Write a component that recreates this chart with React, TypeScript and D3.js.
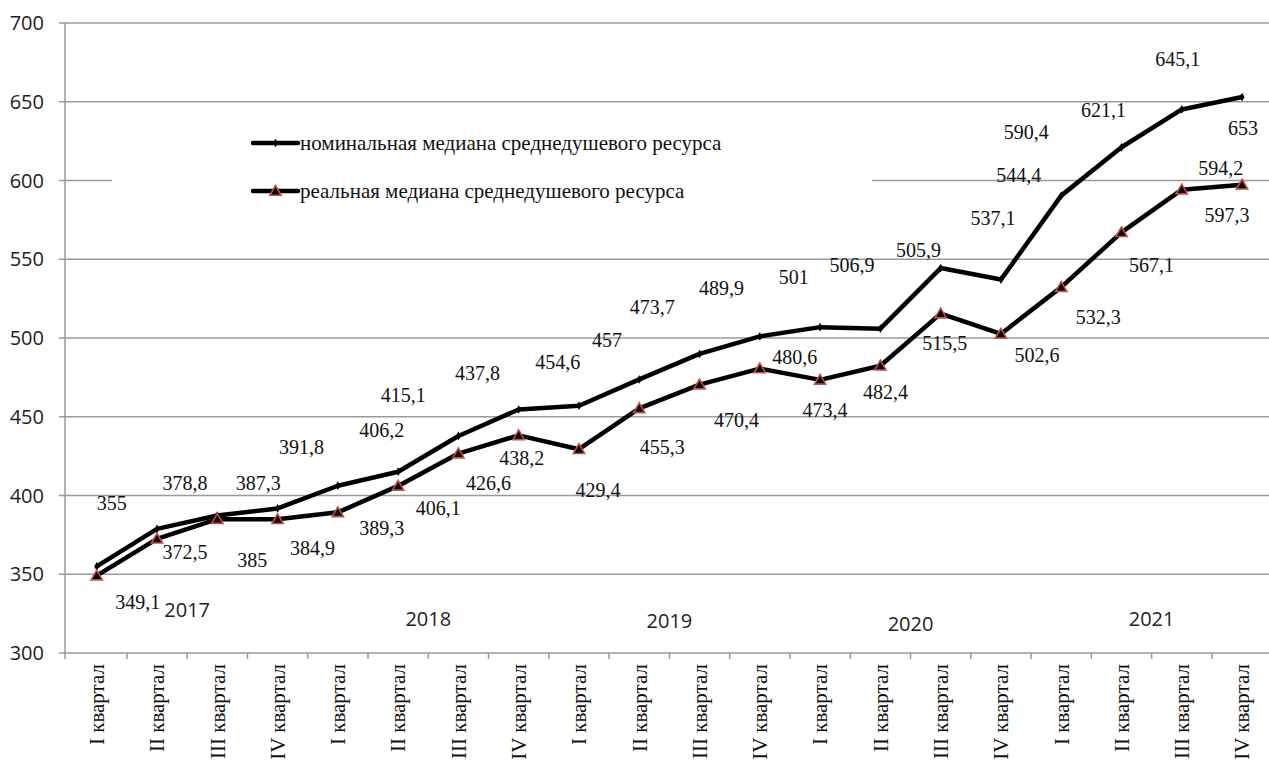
import React, { useEffect, useRef } from "react";
import * as d3 from "d3";

const quarters = [
  "I квартал", "II квартал", "III квартал", "IV квартал",
  "I квартал", "II квартал", "III квартал", "IV квартал",
  "I квартал", "II квартал", "III квартал", "IV квартал",
  "I квартал", "II квартал", "III квартал", "IV квартал",
  "I квартал", "II квартал", "III квартал", "IV квартал",
];
const years = ["2017", "2018", "2019", "2020", "2021"];
const nominal = [355, 378.8, 387.3, 391.8, 406.2, 415.1, 437.8, 454.6, 457, 473.7, 489.9, 501, 506.9, 505.9, 544.4, 537.1, 590.4, 621.1, 645.1, 653];
const real = [349.1, 372.5, 385, 384.9, 389.3, 406.1, 426.6, 438.2, 429.4, 455.3, 470.4, 480.6, 473.4, 482.4, 515.5, 502.6, 532.3, 567.1, 594.2, 597.3];
const yTicks = [300, 350, 400, 450, 500, 550, 600, 650, 700];
const seriesNames = ["номинальная медиана среднедушевого ресурса", "реальная медиана среднедушевого ресурса"];

// layout: label offsets (px) relative to their point
const nomLabelOffsets: [number, number][] = [
  [15, -63], [28, -46], [41, -33], [24, -61], [44, -56], [5, -77], [19, -63], [39, -48], [28, -66], [13, -72],
  [22, -66], [34, -59], [32, -62], [38, -79], [78, -93], [-8, -62], [-35, -64], [-18, -37], [-4, -50], [1, 31],
];
const realLabelOffsets: [number, number][] = [
  [41, 26], [28, 13], [35, 41], [35, 29], [44, 16], [40, 22], [30, 29], [3, 23], [19, 41], [23, 39],
  [37, 35], [35, -12], [5, 30], [5, 26], [4, 29], [36, 21], [37, 30], [30, 33], [39, -22], [-15, 30],
];
const yearLabelDy = [-43, -34, -32, -29, -34];

const W = 1269, H = 769;
const left = 65, top = 23, bottom = 653;
const bandLeft = 66.6, bandRight = 1272.2;

const fmt = (v: number) => String(v).replace(".", ",");

export default function App() {
  const ref = useRef<SVGSVGElement>(null);
  useEffect(() => {
    const svg = d3.select(ref.current);
    svg.selectAll("*").remove();
    const x = d3.scaleBand<number>().domain(d3.range(quarters.length)).range([bandLeft, bandRight]).padding(0);
    const y = d3.scaleLinear().domain([300, 700]).range([bottom, top]);
    const cx = (i: number) => (x(i) as number) + x.bandwidth() / 2;
    const grid = "#9a9a9a";

    // gridlines
    svg.append("g").selectAll("line").data(yTicks.filter(t => t !== 300)).join("line")
      .attr("x1", left - 6).attr("x2", W).attr("y1", d => y(d)).attr("y2", d => y(d))
      .attr("stroke", grid).attr("stroke-width", 1.5);
    // y axis
    svg.append("line").attr("x1", left).attr("x2", left).attr("y1", top).attr("y2", bottom + 6)
      .attr("stroke", grid).attr("stroke-width", 1.5);
    svg.append("line").attr("x1", left - 6).attr("x2", W).attr("y1", bottom).attr("y2", bottom)
      .attr("stroke", grid).attr("stroke-width", 1.5);
    // x ticks at band boundaries
    svg.append("g").selectAll("line").data(d3.range(1, quarters.length)).join("line")
      .attr("x1", i => x(i) as number).attr("x2", i => x(i) as number)
      .attr("y1", bottom).attr("y2", bottom + 6).attr("stroke", grid).attr("stroke-width", 1.5);

    // y tick labels
    svg.append("g").selectAll("text").data(yTicks).join("text")
      .attr("x", 44).attr("y", d => y(d)).attr("dy", "0.36em").attr("text-anchor", "end")
      .attr("font-family", "'Open Sans', sans-serif").attr("font-size", 20).attr("fill", "#222")
      .text(d => d);

    // x category labels
    svg.append("g").selectAll("text").data(quarters).join("text")
      .attr("transform", (d, i) => `translate(${cx(i)},${bottom + 11}) rotate(-90)`)
      .attr("text-anchor", "end").attr("dy", "0.35em")
      .attr("font-family", "'Liberation Serif', serif").attr("font-size", 21).attr("fill", "#111")
      .text(d => d);

    // legend background
    svg.append("rect").attr("x", 112).attr("y", 112).attr("width", 760).attr("height", 120).attr("fill", "#fff");

    // year labels
    svg.append("g").selectAll("text").data(years).join("text")
      .attr("x", (d, k) => d3.mean([0, 1, 2, 3].map(j => cx(k * 4 + j))) as number)
      .attr("y", (d, k) => bottom + yearLabelDy[k]).attr("dy", "0.36em").attr("text-anchor", "middle")
      .attr("font-family", "'Open Sans', sans-serif").attr("font-size", 20).attr("fill", "#222")
      .text(d => d);

    const line = d3.line<number>().x((d, i) => cx(i)).y(d => y(d));
    [nominal, real].forEach(s => {
      svg.append("path").attr("d", line(s)).attr("fill", "none").attr("stroke", "#000")
        .attr("stroke-width", 4.5).attr("stroke-linejoin", "round");
    });

    const tri = d3.symbol().type(d3.symbolTriangle).size(55);
    const dia = d3.symbol().type(d3.symbolDiamond).size(22);
    svg.append("g").selectAll("path").data(nominal).join("path")
      .attr("d", dia).attr("transform", (d, i) => `translate(${cx(i)},${y(d)})`).attr("fill", "#000");
    svg.append("g").selectAll("path").data(real).join("path")
      .attr("d", tri).attr("transform", (d, i) => `translate(${cx(i)},${y(d) + 1})`)
      .attr("fill", "#000").attr("stroke", "#c0504d").attr("stroke-width", 1.6);

    // data labels
    const lab = (s: number[], off: [number, number][]) =>
      svg.append("g").selectAll("text").data(s).join("text")
        .attr("x", (d, i) => cx(i) + off[i][0]).attr("y", (d, i) => y(d) + off[i][1])
        .attr("dy", "0.35em").attr("text-anchor", "middle")
        .attr("font-family", "'Liberation Serif', serif").attr("font-size", 20).attr("fill", "#111")
        .text(d => fmt(d));
    lab(nominal, nomLabelOffsets);
    lab(real, realLabelOffsets);

    // legend
    const legY = [143, 191];
    seriesNames.forEach((name, k) => {
      const g = svg.append("g");
      g.append("line").attr("x1", 253).attr("x2", 298).attr("y1", legY[k]).attr("y2", legY[k])
        .attr("stroke", "#000").attr("stroke-width", 4.5).attr("stroke-linecap", "round");
      if (k === 0) {
        g.append("path").attr("d", dia).attr("transform", `translate(275.5,${legY[k]})`).attr("fill", "#000");
      } else {
        g.append("path").attr("d", tri).attr("transform", `translate(275.5,${legY[k] + 1})`)
          .attr("fill", "#000").attr("stroke", "#c0504d").attr("stroke-width", 1.6);
      }
      g.append("text").attr("x", 300).attr("y", legY[k]).attr("dy", "0.35em")
        .attr("font-family", "'Liberation Serif', serif").attr("font-size", 21).attr("fill", "#111")
        .text(name);
    });
  }, []);
  return <svg ref={ref} width={W} height={H} style={{ position: "absolute", left: 0, top: 0, background: "#fff" }} />;
}
